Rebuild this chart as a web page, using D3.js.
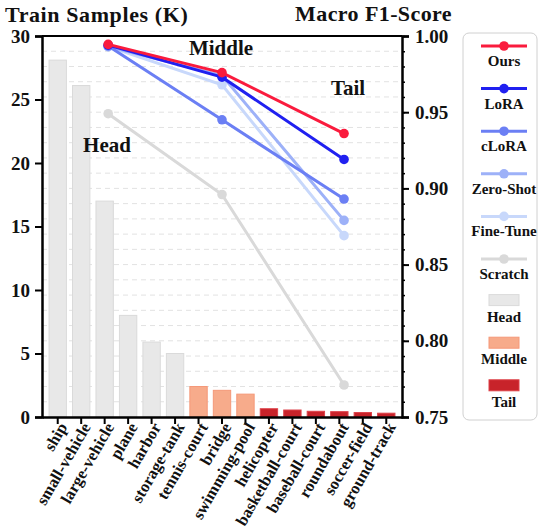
<!DOCTYPE html>
<html>
<head>
  <meta charset="utf-8">
  <script src="https://cdn.jsdelivr.net/npm/d3@7"></script>
  <style>
body { margin: 0; background: #fff; }
svg text {
  font-family: "Liberation Serif", "Times New Roman", serif;
  font-weight: bold;
  fill: #111;
}
.grid line { stroke: #e2e2e2; stroke-dasharray: 5,4; }
.axis path, .axis line { stroke: #000; }
  </style>
</head>
<body>
<svg width="540" height="531"></svg>
<script>

// categories and train samples (K)
const categories = ["ship", "small-vehicle", "large-vehicle", "plane", "harbor", "storage-tank",
  "tennis-court", "bridge", "swimming-pool", "helicopter", "basketball-court", "baseball-court",
  "roundabout", "soccer-field", "ground-track"];
const samples = [28.1, 26.1, 17.0, 8.0, 5.9, 5.0, 2.4, 2.1, 1.8, 0.65, 0.55, 0.45, 0.42, 0.35, 0.3];
const groups = ["Head", "Head", "Head", "Head", "Head", "Head",
  "Middle", "Middle", "Middle", "Tail", "Tail", "Tail", "Tail", "Tail", "Tail"];

// macro F1 per split, placed at a category index position
const splits = ["Head", "Middle", "Tail"];
const splitPos = [2.15, 7.0, 12.2];
const ours     = [0.9945, 0.976, 0.936];
const lora     = [0.994, 0.973, 0.919];
const clora    = [0.9935, 0.945, 0.893];
const zeroShot = [0.993, 0.974, 0.879];
const fineTune = [0.993, 0.968, 0.869];
const scratch  = [0.949, 0.896, 0.771];

const series = [
  {name: "Ours",      values: ours,     color: "#fa1b3d"},
  {name: "LoRA",      values: lora,     color: "#2020f0"},
  {name: "cLoRA",     values: clora,    color: "#6b7ff4"},
  {name: "Zero-Shot", values: zeroShot, color: "#9db1f8"},
  {name: "Fine-Tune", values: fineTune, color: "#c8d8fb"},
  {name: "Scratch",   values: scratch,  color: "#d9d9d9"}
];
const groupStyle = {
  Head:   {fill: "#e8e8e8", stroke: "#dadada"},
  Middle: {fill: "#f7ab8b", stroke: "#f59878"},
  Tail:   {fill: "#c8232a", stroke: "#dd4048"}
};

const svg = d3.select("svg");
const mLeft = 42, mRight = 402, mTop = 36, mBottom = 417;

const x = d3.scaleBand().domain(categories).range([mLeft, mRight])
            .paddingInner(0.26).paddingOuter(0.3);
const yL = d3.scaleLinear().domain([0, 30]).range([mBottom, mTop]);
const yR = d3.scaleLinear().domain([0.75, 1.0]).range([mBottom, mTop]);
const px = i => x(categories[0]) + x.bandwidth() / 2 + i * x.step();

// dashed grid on the F1 minor ticks
svg.append("g").attr("class", "grid")
  .selectAll("line")
  .data(d3.range(76, 100).map(v => v / 100))
  .enter().append("line")
  .attr("x1", mLeft).attr("x2", mRight)
  .attr("y1", d => yR(d)).attr("y2", d => yR(d));

// bars
svg.append("g")
  .selectAll("rect")
  .data(categories)
  .enter().append("rect")
  .attr("x", d => x(d))
  .attr("width", x.bandwidth())
  .attr("y", (d, i) => yL(samples[i]))
  .attr("height", (d, i) => yL(0) - yL(samples[i]))
  .attr("fill", (d, i) => groupStyle[groups[i]].fill)
  .attr("stroke", (d, i) => groupStyle[groups[i]].stroke)
  .attr("stroke-width", 1);

// lines
const line = d3.line().x((d, i) => px(splitPos[i])).y(d => yR(d));
const sg = svg.append("g");
series.slice().reverse().forEach(s => {
  sg.append("path")
    .attr("d", line(s.values))
    .attr("fill", "none")
    .attr("stroke", s.color)
    .attr("stroke-width", 3);
  sg.selectAll(null)
    .data(s.values)
    .enter().append("circle")
    .attr("cx", (d, i) => px(splitPos[i]))
    .attr("cy", d => yR(d))
    .attr("r", 4.8)
    .attr("fill", s.color);
});

// frame
svg.append("line").attr("x1", mLeft).attr("x2", mRight).attr("y1", mTop).attr("y2", mTop)
   .attr("stroke", "#000").attr("stroke-width", 2);

// left axis
const axL = svg.append("g").attr("class", "axis")
  .attr("transform", `translate(${mLeft},0)`)
  .call(d3.axisLeft(yL).tickValues([0, 5, 10, 15, 20, 25, 30]).tickSize(7).tickPadding(5));
axL.select(".domain").attr("stroke-width", 2.5);
axL.selectAll(".tick line").attr("stroke-width", 2);
axL.selectAll("text").attr("font-size", 19).attr("fill", "#111");

// right axis, minor then major
const axRm = svg.append("g").attr("class", "axis")
  .attr("transform", `translate(${mRight},0)`)
  .call(d3.axisRight(yR).tickValues(d3.range(75, 101).map(v => v / 100)).tickSize(3).tickFormat(""));
axRm.select(".domain").remove();
axRm.selectAll(".tick line").attr("stroke-width", 1.5);
const axR = svg.append("g").attr("class", "axis")
  .attr("transform", `translate(${mRight},0)`)
  .call(d3.axisRight(yR).tickValues([0.75, 0.8, 0.85, 0.9, 0.95, 1.0]).tickSize(7).tickPadding(6)
          .tickFormat(d3.format(".2f")));
axR.select(".domain").attr("stroke-width", 2.5);
axR.selectAll(".tick line").attr("stroke-width", 2);
axR.selectAll("text").attr("font-size", 19).attr("fill", "#111");

// bottom axis
const axB = svg.append("g").attr("class", "axis")
  .attr("transform", `translate(0,${mBottom})`)
  .call(d3.axisBottom(x).tickSize(7).tickSizeOuter(0));
axB.select(".domain").attr("stroke-width", 2.5);
axB.selectAll(".tick line").attr("stroke-width", 2);
axB.selectAll("text")
  .attr("font-size", 16.5)
  .attr("fill", "#111")
  .attr("text-anchor", "end")
  .attr("transform", "translate(5,7) rotate(-60)")
  .attr("dx", 0).attr("dy", "0.35em").attr("y", 0).attr("x", 0);

// titles
svg.append("text").attr("x", 5).attr("y", 22).attr("font-size", 22)
   .attr("letter-spacing", 0.6).text("Train Samples (K)");
svg.append("text").attr("x", 452).attr("y", 21).attr("font-size", 22).attr("text-anchor", "end")
   .attr("letter-spacing", 0.4).text("Macro F1-Score");

// split labels
const splitLabelPos = [[107, 152], [221, 55], [348, 95]];
splits.forEach((s, i) => {
  svg.append("text")
    .attr("x", splitLabelPos[i][0]).attr("y", splitLabelPos[i][1])
    .attr("text-anchor", "middle").attr("font-size", 21)
    .text(s);
});

// legend
const lg = svg.append("g");
lg.append("rect").attr("x", 463).attr("y", 33).attr("width", 74).attr("height", 387)
  .attr("rx", 6).attr("fill", "#fff").attr("stroke", "#d0d0d0").attr("stroke-width", 1);
const legendItems = series.map(s => ({name: s.name, color: s.color, type: "line"}))
  .concat(splits.map(g => ({name: g, color: groupStyle[g].fill, stroke: groupStyle[g].stroke, type: "bar"})));
const lx = 504;
legendItems.forEach((it, i) => {
  const yy = 46 + i * 42.6;
  if (it.type === "line") {
    lg.append("line").attr("x1", lx - 23).attr("x2", lx + 23).attr("y1", yy).attr("y2", yy)
      .attr("stroke", it.color).attr("stroke-width", 3);
    lg.append("circle").attr("cx", lx).attr("cy", yy).attr("r", 4.8).attr("fill", it.color);
  } else {
    lg.append("rect").attr("x", lx - 15).attr("y", yy - 7).attr("width", 30).attr("height", 11)
      .attr("fill", it.color).attr("stroke", it.stroke);
  }
  lg.append("text").attr("x", lx).attr("y", yy + 20).attr("text-anchor", "middle")
    .attr("font-size", 15).text(it.name);
});

</script>
</body>
</html>
